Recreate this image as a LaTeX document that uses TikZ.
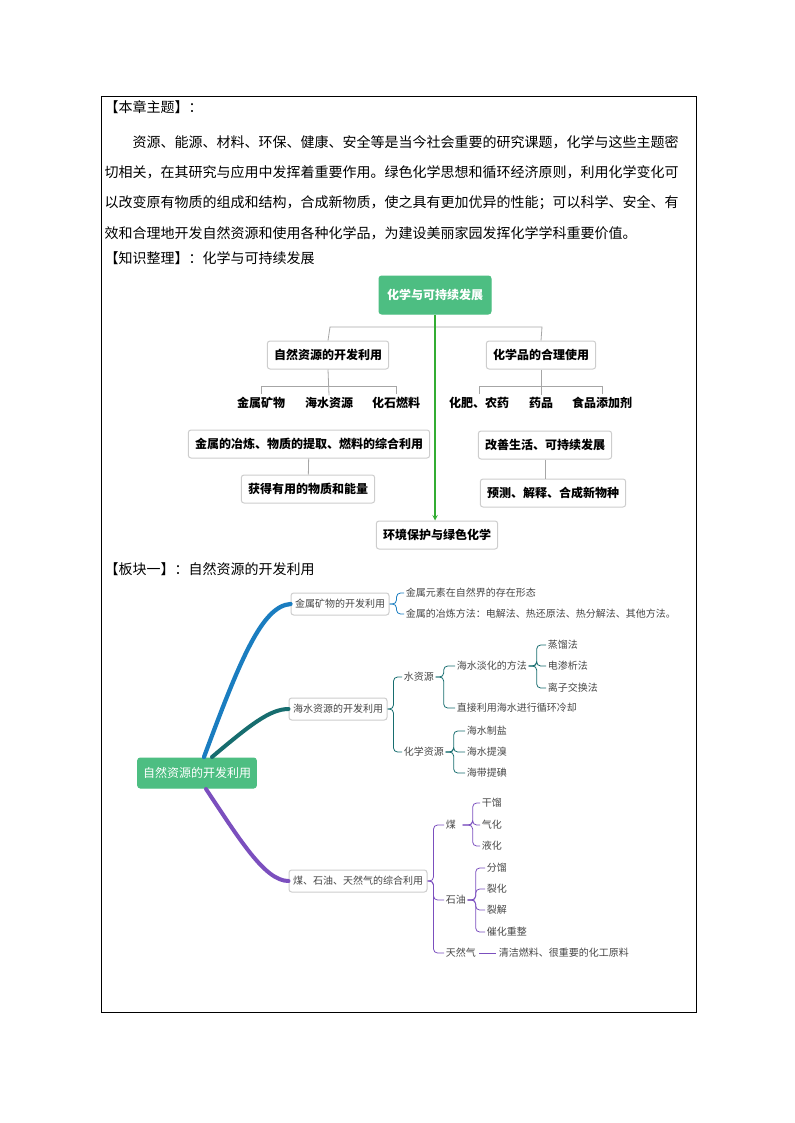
\documentclass[tikz,border=0pt]{standalone}
\usepackage{fontspec}
\setmainfont{Noto Sans CJK SC}
\definecolor{mintgreen}{RGB}{77,190,130}
\definecolor{boxgray}{RGB}{205,205,205}
\definecolor{leafgray}{RGB}{70,70,70}
\definecolor{brblue}{RGB}{26,125,192}
\definecolor{brteal}{RGB}{23,109,111}
\definecolor{brpurple}{RGB}{123,79,190}
\tikzset{every picture/.style={line width=0.75pt}}
\tikzset{
  bodytext/.style={anchor=west,inner sep=0pt,font=\fontsize{10.5}{12}\selectfont},
  rootbox/.style={fill=mintgreen,draw=mintgreen,rounded corners=2pt,text=white,font=\fontsize{9}{11}\selectfont\bfseries,minimum height=28.5,inner xsep=6},
  graybox/.style={draw=boxgray,rounded corners=2pt,fill=white,font=\fontsize{9}{11}\selectfont\bfseries,minimum height=21,inner xsep=5},
  boldleaf/.style={inner sep=1pt,font=\fontsize{9}{11}\selectfont\bfseries},
  mapbox/.style={draw=boxgray,rounded corners=2pt,fill=white,text=leafgray,font=\fontsize{7.5}{9}\selectfont,minimum height=16.5,inner xsep=3},
  mapleaf/.style={anchor=west,inner sep=1pt,text=leafgray,font=\fontsize{7.5}{9}\selectfont},
  treeline/.style={draw=gray!70,line width=0.6pt},
  brace/.style={rounded corners=3pt,line width=0.6pt}
}
\begin{document}
\begin{tikzpicture}[x=0.75pt,y=0.75pt,yscale=-1,xscale=1]
\useasboundingbox (0,0) rectangle (794,1123);
% frame
\draw[line width=0.6pt] (101,96) rectangle (696,1012);

% Text Node
\node[bodytext] (theme) at (104,107) {【本章主题】：};
\node[bodytext] (para1) at (132,142) {资源、能源、材料、环保、健康、安全等是当今社会重要的研究课题，化学与这些主题密};
\node[bodytext] (para2) at (104,172) {切相关，在其研究与应用中发挥着重要作用。绿色化学思想和循环经济原则，利用化学变化可};
\node[bodytext] (para3) at (104,203) {以改变原有物质的组成和结构，合成新物质，使之具有更加优异的性能；可以科学、安全、有};
\node[bodytext] (para4) at (104,233) {效和合理地开发自然资源和使用各种化学品，为建设美丽家园发挥化学学科重要价值。};
\node[bodytext] (sort) at (104,258) {【知识整理】：化学与可持续发展};

% tree of the chapter
\node[rootbox] (sust) at (435,295) {化学与可持续发展};
\node[graybox] (natres) at (328,355) {自然资源的开发利用};
\node[graybox] (chemuse) at (541,355) {化学品的合理使用};
\draw[treeline] (natres.north) -- (330,327) -- (542,327) -- (chemuse.north);
\node[boldleaf] (metal) at (261,403) {金属矿物};
\node[boldleaf] (seawater) at (329,403) {海水资源};
\node[boldleaf] (fossil) at (396,403) {化石燃料};
\draw[treeline] (natres.south) -- (seawater.north);
\draw[treeline] (261,394) -- (261,386) -- (396,386) -- (396,394);
\node[boldleaf] (fert) at (479,403) {化肥、农药};
\node[boldleaf] (drug) at (541,403) {药品};
\node[boldleaf] (additive) at (602,403) {食品添加剂};
\draw[treeline] (chemuse.south) -- (drug.north);
\draw[treeline] (479,394) -- (479,386) -- (602,386) -- (602,394);
\node[graybox] (smelt) at (309,444) {金属的冶炼、物质的提取、燃料的综合利用};
\node[graybox] (energy) at (308,489) {获得有用的物质和能量};
\draw[treeline] (smelt) -- (energy);
\node[graybox] (improve) at (545,445) {改善生活、可持续发展};
\node[graybox] (predict) at (553,493) {预测、解释、合成新物种};
\draw[treeline] (improve.south) -- (improve.south |- predict.north);
\node[graybox] (green) at (437,535) {环境保护与绿色化学};
\draw[-stealth,draw=green!60!black!80,line width=0.8pt] (sust.south) -- (sust.south |- green.north);

% block one
\node[bodytext] (block) at (104,569) {【板块一】：自然资源的开发利用};
\node[rootbox,font=\fontsize{9}{11}\selectfont,minimum height=22.5,inner xsep=4] (nat) at (197,773) {自然资源的开发利用};
\node[mapbox] (ore) at (340,604) {金属矿物的开发利用};
\node[mapbox] (sea) at (338,709) {海水资源的开发利用};
\node[mapbox] (fuel) at (358,881) {煤、石油、天然气的综合利用};
\draw[brblue,line width=3.2pt,line cap=round] (204,757) .. controls (240,660) and (262,606) .. (ore.west);
\draw[brteal,line width=3pt,line cap=round] (212,757) .. controls (250,725) and (270,709) .. (sea.west);
\draw[brpurple,line width=3pt,line cap=round] (206,789) .. controls (240,840) and (265,881) .. (fuel.west);

% metal minerals
\node[mapleaf] (form) at (404,593) {金属元素在自然界的存在形态};
\node[mapleaf] (method) at (404,614) {金属的冶炼方法：电解法、热还原法、热分解法、其他方法。};
\foreach \leaf in {form,method}
  \draw[brace,brblue] (ore.east) -- ++(7,0) |- (\leaf.west);

% sea water
\node[mapleaf] (water) at (402,677) {水资源};
\node[mapleaf] (chemres) at (402,752) {化学资源};
\foreach \leaf in {water,chemres}
  \draw[brace,brteal] (sea.east) -- ++(6,0) |- (\leaf.west);
\node[mapleaf] (desal) at (455,666) {海水淡化的方法};
\node[mapleaf] (cooling) at (455,708) {直接利用海水进行循环冷却};
\foreach \leaf in {desal,cooling}
  \draw[brace,brteal] (water.east) -- ++(8,0) |- (\leaf.west);
\node[mapleaf] (distil) at (546,645) {蒸馏法};
\node[mapleaf] (electro) at (546,666) {电渗析法};
\node[mapleaf] (ionex) at (546,688) {离子交换法};
\foreach \leaf in {distil,electro,ionex}
  \draw[brace,brteal] (desal.east) -- ++(8,0) |- (\leaf.west);
\node[mapleaf] (salt) at (465,731) {海水制盐};
\node[mapleaf] (bromine) at (465,752) {海水提溴};
\node[mapleaf] (iodine) at (465,773) {海带提碘};
\foreach \leaf in {salt,bromine,iodine}
  \draw[brace,brteal] (chemres.east) -- ++(8,0) |- (\leaf.west);

% fossil fuels
\node[mapleaf] (coal) at (444,825) {煤};
\node[mapleaf] (oil) at (444,900) {石油};
\node[mapleaf] (gas) at (444,953) {天然气};
\foreach \leaf in {coal,oil,gas}
  \draw[brace,brpurple] (fuel.east) -- ++(6,0) |- (\leaf.west);
\node[mapleaf] (dry) at (480,803) {干馏};
\node[mapleaf] (gasify) at (480,825) {气化};
\node[mapleaf] (liquefy) at (480,846) {液化};
\foreach \leaf in {dry,gasify,liquefy}
  \draw[brace,brpurple] (coal.east) ++(5,0) -- ++(10,0) |- (\leaf.west);
\node[mapleaf] (fraction) at (485,868) {分馏};
\node[mapleaf] (crack) at (485,889) {裂化};
\node[mapleaf] (pyro) at (485,910) {裂解};
\node[mapleaf] (reform) at (485,932) {催化重整};
\foreach \leaf in {fraction,crack,pyro,reform}
  \draw[brace,brpurple] (oil.east) -- ++(8,0) |- (\leaf.west);
\node[mapleaf] (clean) at (497,953) {清洁燃料、很重要的化工原料};
\draw[brpurple,line width=0.6pt,shorten <=1pt,shorten >=1pt] (gas.east) -- (clean.west);
\end{tikzpicture}
\end{document}
